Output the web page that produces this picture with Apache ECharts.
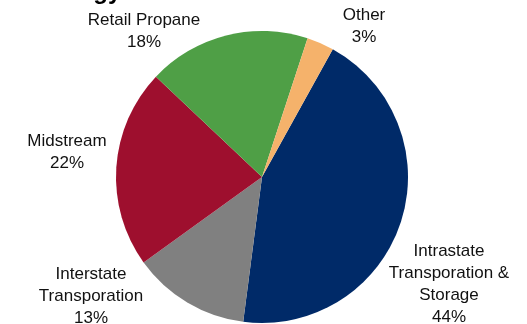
<!DOCTYPE html>
<html><head><meta charset="utf-8">
<script src="https://cdn.jsdelivr.net/npm/echarts@6/dist/echarts.min.js"></script>
<style>html,body{margin:0;padding:0;background:#fff}#c{width:527px;height:324px}</style>
</head><body><div id="c"></div>
<script>
const categories = ["Intrastate\nTransporation &\nStorage", "Interstate\nTransporation", "Midstream", "Retail Propane", "Other"];
const shares = [44, 13, 22, 18, 3];
const colors = ["#002A68", "#808080", "#9E0F2E", "#4F9F46", "#F5B26B"];
const labelPos = [[449, 284], [91, 296], [67, 152], [144, 31], [364, 26]];

const chart = echarts.init(document.getElementById('c'), null, {renderer: 'canvas'});
chart.setOption({
  animation: false,
  title: {
    text: 'Energy', left: 35, top: -25,
    textStyle: {fontFamily: 'Liberation Sans, Arial', fontWeight: 'bold', fontSize: 24, color: '#000'}
  },
  series: [{
    type: 'pie',
    center: [262, 177],
    radius: 146,
    startAngle: 61,
    clockwise: true,
    data: categories.map((n, i) => ({name: n, value: shares[i], itemStyle: {color: colors[i]}})),
    itemStyle: {borderWidth: 0},
    label: {
      show: true,
      formatter: p => p.name + '\n' + p.value + '%',
      fontFamily: 'Liberation Sans, Arial',
      fontSize: 17,
      lineHeight: 22,
      color: '#111',
      align: 'center',
      overflow: 'none',
      width: 200
    },
    labelLine: {show: false},
    labelLayout: p => ({x: labelPos[p.dataIndex][0], y: labelPos[p.dataIndex][1], align: 'center', verticalAlign: 'middle', width: 200})
  }]
});
</script></body></html>
